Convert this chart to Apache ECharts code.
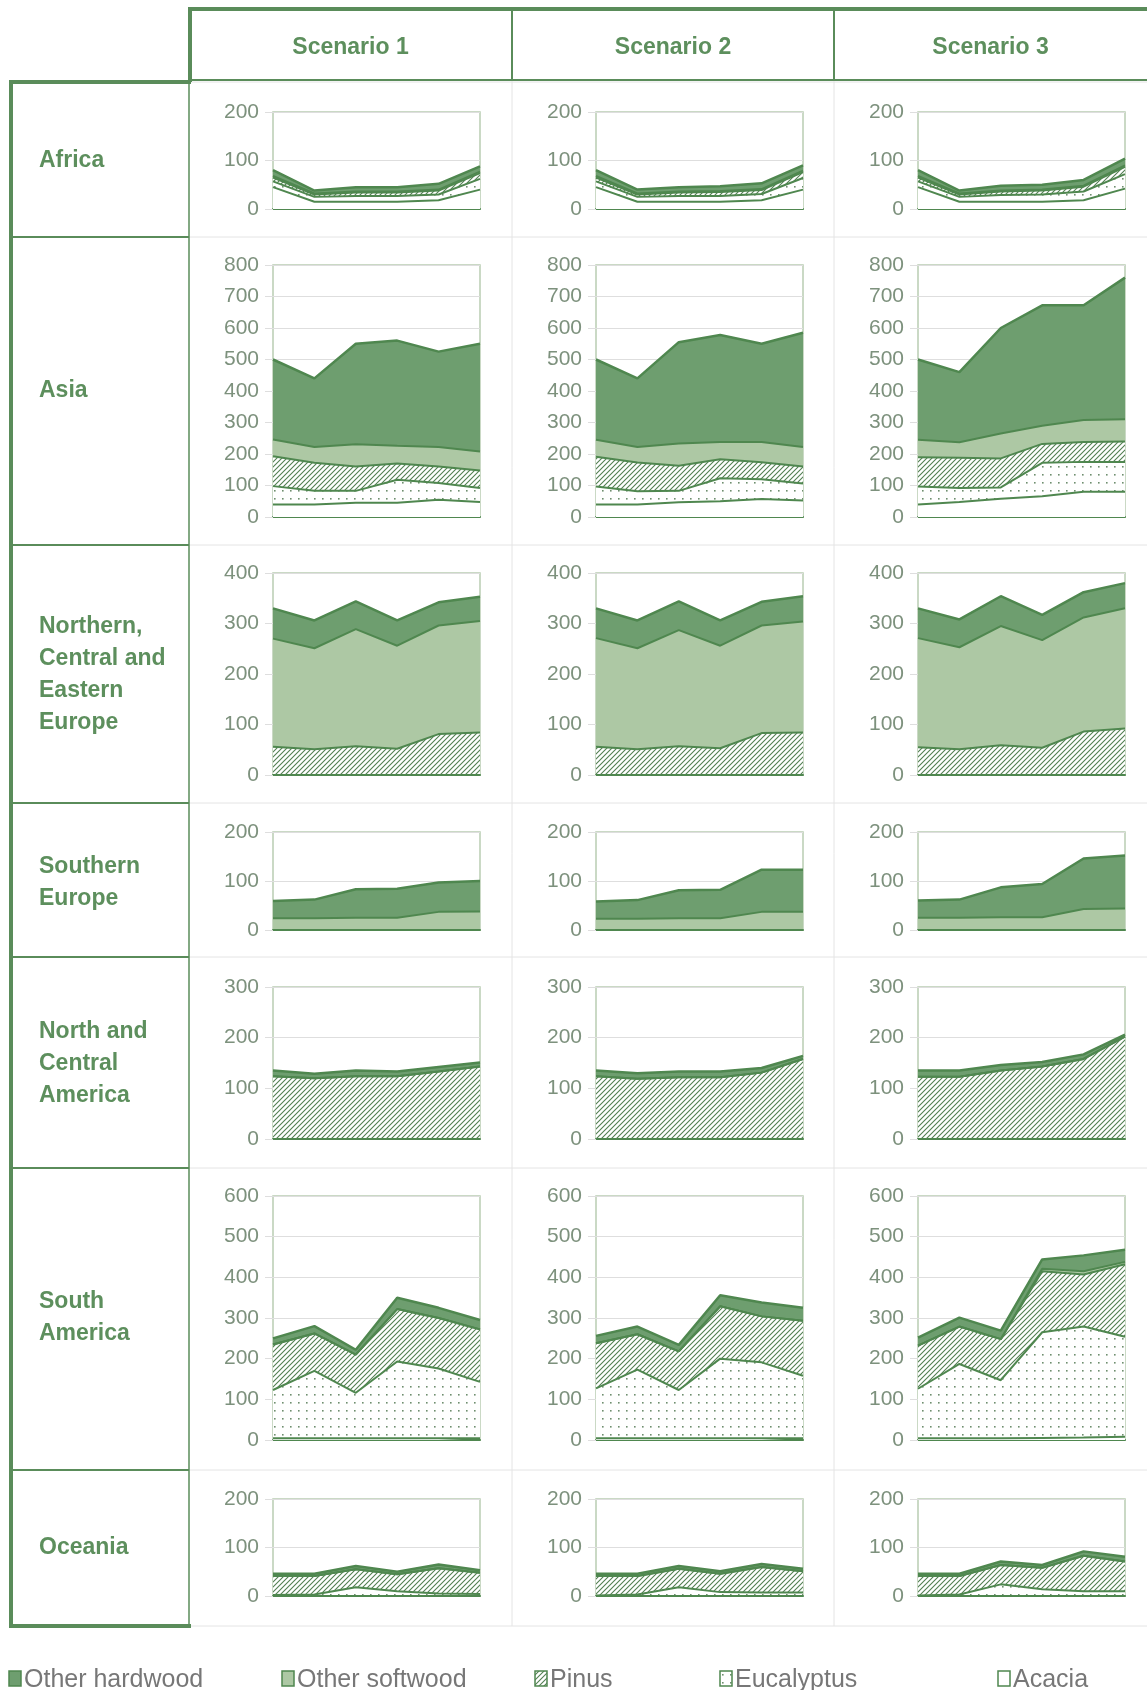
<!DOCTYPE html>
<html>
<head>
<meta charset="utf-8">
<script src="https://cdn.jsdelivr.net/npm/echarts@6/dist/echarts.min.js"></script>
<style>
  html, body { margin: 0; padding: 0; background: #ffffff; }
  #chart { width: 1147px; height: 1690px; }
</style>
</head>
<body>
<div id="chart"></div>
<script>
// Periods along each small chart's horizontal axis (not labelled)
const periods = ['P1', 'P2', 'P3', 'P4', 'P5', 'P6'];
// Stack order, bottom to top
const species = ['Acacia', 'Eucalyptus', 'Pinus', 'Other softwood', 'Other hardwood'];
const scenarios = ['Scenario 1', 'Scenario 2', 'Scenario 3'];
const regions = ['Africa', 'Asia', 'Northern,\nCentral and\nEastern\nEurope', 'Southern\nEurope',
  'North and\nCentral\nAmerica', 'South\nAmerica', 'Oceania'];
const yMax = [200, 800, 400, 200, 300, 600, 200];

// Each panel: rows = Acacia, Eucalyptus, Pinus, Other softwood, Other hardwood
const africa1 = [[45,15,15,15,18,40],[12,10,12,12,12,22],[8,5,7,7,8,12],[3,2,2,2,2,3],[12,6,9,9,12,11]];
const africa2 = [[45,15,15,15,18,40],[12,10,12,12,13,24],[8,5,7,8,8,12],[3,2,2,2,2,3],[12,8,9,10,12,11]];
const africa3 = [[45,15,15,15,18,42],[12,10,14,15,18,30],[8,5,7,8,10,15],[3,2,2,2,2,3],[12,6,10,10,12,14]];

const asia1 = [[40,40,45,45,55,48],[58,43,38,73,53,44],[95,89,77,52,52,56],[53,50,71,56,62,60],[254,218,319,334,303,342]];
const asia2 = [[40,40,47,50,57,52],[57,42,36,73,63,54],[94,91,80,60,54,54],[54,49,70,55,64,62],[255,218,322,340,312,363]];
const asia3 = [[40,48,58,66,80,80],[57,44,36,106,95,95],[93,96,92,60,63,65],[55,49,79,58,70,70],[255,223,335,382,364,450]];

const nceEurope1 = [[0,0,0,0,0,0],[0,0,0,0,0,0],[56,51,57,52,81,84],[214,200,232,204,215,221],[60,55,55,50,46,48]];
const nceEurope2 = [[0,0,0,0,0,0],[0,0,0,0,0,0],[56,51,57,53,83,84],[215,200,230,203,213,220],[59,55,57,50,47,50]];
const nceEurope3 = [[0,0,0,0,0,0],[0,0,0,0,0,0],[55,51,59,54,86,92],[216,202,236,213,226,238],[59,55,59,50,50,50]];

const sEurope1 = [[0,0,0,0,0,0],[0,0,0,0,0,0],[0,0,0,0,0,0],[24,24,25,25,37,38],[35,38,58,59,60,62]];
const sEurope2 = [[0,0,0,0,0,0],[0,0,0,0,0,0],[0,0,0,0,0,0],[23,23,24,24,37,37],[35,38,57,58,86,86]];
const sEurope3 = [[0,0,0,0,0,0],[0,0,0,0,0,0],[0,0,0,0,0,0],[25,25,26,26,43,44],[35,37,61,68,103,108]];

const ncAmerica1 = [[0,0,0,0,0,0],[0,0,0,0,0,0],[124,120,124,124,133,143],[0,0,0,0,0,0],[11,9,11,9,9,8]];
const ncAmerica2 = [[0,0,0,0,0,0],[0,0,0,0,0,0],[124,119,122,122,131,158],[0,0,0,0,0,0],[11,11,11,11,9,6]];
const ncAmerica3 = [[0,0,0,0,0,0],[0,0,0,0,0,0],[123,123,135,143,158,202],[0,0,0,0,0,0],[12,12,11,9,9,4]];

const sAmerica1 = [[4,4,4,4,4,4],[119,166,112,189,172,139],[112,92,94,129,124,129],[0,0,0,0,0,0],[15,18,12,28,25,23]];
const sAmerica2 = [[4,4,4,4,4,4],[123,169,119,196,187,154],[111,87,95,129,113,135],[0,0,0,0,0,0],[18,19,16,27,34,32]];
const sAmerica3 = [[4,4,4,5,6,8],[122,183,143,260,273,246],[106,92,101,150,128,178],[0,0,0,6,8,6],[20,22,21,23,39,30]];

const oceania1 = [[0,0,0,0,0,0],[2,3,18,10,5,4],[39,38,37,35,52,44],[0,0,0,0,0,0],[5,5,7,5,8,5]];
const oceania2 = [[0,0,0,0,0,0],[1,3,18,8,7,7],[40,38,38,38,53,44],[0,0,0,0,0,0],[5,5,6,5,6,5]];
const oceania3 = [[0,0,0,0,0,0],[1,3,24,14,10,10],[40,38,40,44,73,61],[0,0,0,0,0,0],[5,5,7,6,9,10]];

const panels = [
  [africa1, africa2, africa3],
  [asia1, asia2, asia3],
  [nceEurope1, nceEurope2, nceEurope3],
  [sEurope1, sEurope2, sEurope3],
  [ncAmerica1, ncAmerica2, ncAmerica3],
  [sAmerica1, sAmerica2, sAmerica3],
  [oceania1, oceania2, oceania3]
];

// ---- layout of the table ----
const GREEN = '#5a8c5a';
const LINE = '#4f874f';
const TEXT = '#5d8f5d';
const TICK = '#7d917d';
const colLeft = [273, 596, 918];
const plotW = 207;
const rowTop = [112, 265, 573, 832, 987, 1196, 1499];
const rowBot = [209, 517, 775, 930, 1139, 1440, 1596];
const rowLines = [82, 237, 545, 803, 957, 1168, 1470, 1626];
const colLines = [189, 512, 834];

// ---- fill patterns ----
function hatchPattern() {
  const c = document.createElement('canvas');
  c.width = 5; c.height = 5;
  const g = c.getContext('2d');
  g.fillStyle = '#ffffff'; g.fillRect(0, 0, 5, 5);
  g.strokeStyle = '#527f52'; g.lineWidth = 1.1;
  g.beginPath();
  g.moveTo(-1, 6); g.lineTo(6, -1);
  g.moveTo(-1, 1); g.lineTo(1, -1);
  g.moveTo(4, 6); g.lineTo(6, 4);
  g.stroke();
  return c;
}
function dotPattern() {
  const c = document.createElement('canvas');
  c.width = 8; c.height = 8;
  const g = c.getContext('2d');
  g.fillStyle = '#ffffff'; g.fillRect(0, 0, 8, 8);
  g.fillStyle = '#6f8f6f';
  g.fillRect(2, 2, 1.6, 1.6);
  return c;
}
const hatch = hatchPattern();
const dots = dotPattern();
const fills = [
  '#ffffff',
  { image: dots, repeat: 'repeat' },
  { image: hatch, repeat: 'repeat' },
  '#adc8a4',
  '#6e9e6f'
];

const grids = [], xAxes = [], yAxes = [], series = [];
panels.forEach((row, r) => {
  row.forEach((panel, c) => {
    const idx = grids.length;
    grids.push({
      left: colLeft[c], top: rowTop[r], width: plotW, height: rowBot[r] - rowTop[r],
      show: true, borderColor: '#b9cdb2', borderWidth: 1.5, backgroundColor: 'transparent'
    });
    xAxes.push({
      type: 'category', gridIndex: idx, data: periods, boundaryGap: false,
      axisLine: { show: true, lineStyle: { color: LINE, width: 2 } },
      axisTick: { show: false }, axisLabel: { show: false }, splitLine: { show: false }
    });
    yAxes.push({
      type: 'value', gridIndex: idx, min: 0, max: yMax[r], interval: 100,
      axisLine: { show: false },
      axisTick: { show: true, length: 8, lineStyle: { color: '#dedede' } },
      axisLabel: { color: TICK, fontSize: 21, fontFamily: 'Liberation Sans', margin: 14 },
      splitLine: { show: true, lineStyle: { color: '#dedede', width: 1 } }
    });
    panel.forEach((vals, s) => {
      series.push({
        name: species[s], type: 'line', xAxisIndex: idx, yAxisIndex: idx,
        stack: 'panel' + idx, data: vals, symbol: 'none', silent: true,
        lineStyle: { color: LINE, width: s === 4 ? 2.5 : 2 },
        areaStyle: { color: fills[s], opacity: 1 },
        z: 3
      });
    });
  });
});

// ---- table frame, headers, row labels and key ----
const graphics = [];
function line(x1, y1, x2, y2, w, color) {
  graphics.push({ type: 'line', shape: { x1, y1, x2, y2 }, style: { stroke: color, lineWidth: w }, z: 10 });
}
// light cell separators
rowLines.forEach(y => line(189, y, 1147, y, 1, '#e4e4e4'));
colLines.slice(1).forEach(x => line(x, 81, x, 1626, 1, '#e4e4e4'));
// header row
line(188, 9, 1147, 9, 4, GREEN);
line(190, 7, 190, 82, 4, GREEN);
line(189, 80, 1147, 80, 2, GREEN);
line(512, 9, 512, 80, 2, GREEN);
line(834, 9, 834, 80, 2, GREEN);
// label column
line(9, 82, 191, 82, 4, GREEN);
line(11, 80, 11, 1628, 4, GREEN);
line(189, 80, 189, 1626, 1.5, GREEN);
rowLines.slice(1, -1).forEach(y => line(11, y, 189, y, 2, GREEN));
line(9, 1626, 191, 1626, 4, GREEN);

scenarios.forEach((t, c) => {
  const cx = (colLines[c] + (colLines[c + 1] || 1147)) / 2;
  graphics.push({ type: 'text', x: cx, y: 48, z: 11,
    style: { text: t, fill: TEXT, font: 'bold 23px "Liberation Sans"', textAlign: 'center', textVerticalAlign: 'middle' } });
});
const labelCenters = [161, 391, 675, 883, 1064, 1318, 1548];
regions.forEach((t, r) => {
  graphics.push({ type: 'text', x: 39, y: labelCenters[r], z: 11,
    style: { text: t, fill: TEXT, font: 'bold 23px "Liberation Sans"', lineHeight: 32,
      textAlign: 'left', textVerticalAlign: 'middle' } });
});

const keyOrder = [4, 3, 2, 1, 0];
const keyX = [9, 282, 535, 720, 998];
keyOrder.forEach((s, i) => {
  graphics.push({ type: 'rect', shape: { x: keyX[i], y: 1671, width: 12, height: 15 }, z: 11,
    style: { fill: fills[s], stroke: LINE, lineWidth: 1.5 } });
  graphics.push({ type: 'text', x: keyX[i] + 15, y: 1680, z: 11,
    style: { text: species[s], fill: '#777777', font: '25px "Liberation Sans"', textAlign: 'left', textVerticalAlign: 'middle' } });
});

const chart = echarts.init(document.getElementById('chart'), null, { renderer: 'canvas' });
chart.setOption({
  backgroundColor: '#ffffff',
  animation: false,
  grid: grids,
  xAxis: xAxes,
  yAxis: yAxes,
  series: series,
  graphic: graphics
});
</script>
</body>
</html>
